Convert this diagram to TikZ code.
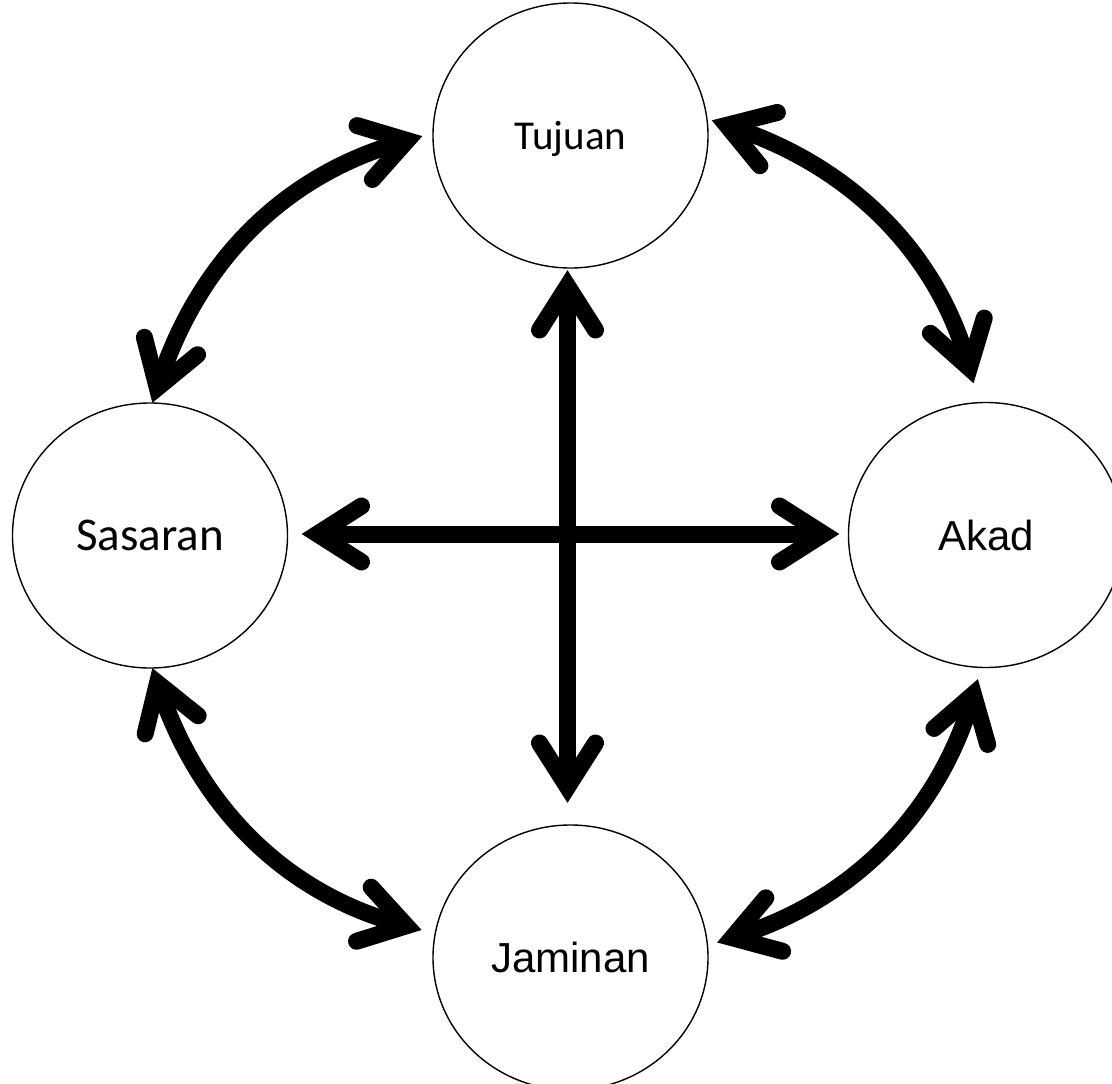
\documentclass[tikz,border=0pt]{standalone}
\usepackage{fontspec}
\usetikzlibrary{arrows.meta,shapes.geometric}
\newfontfamily\calfont{Carlito}
\newfontfamily\arialfont{Liberation Sans}

% open chevron head: sharp mitred point, rounded barb ends
\pgfdeclarearrow{
  name = Chevron,
  setup code = {
    \pgfarrowssettipend{0pt}
    \pgfarrowssetbackend{-68pt}
    \pgfarrowssetlineend{-22pt}
    \pgfarrowshullpoint{0pt}{0pt}
    \pgfarrowshullpoint{-68pt}{37pt}
    \pgfarrowshullpoint{-68pt}{-37pt}
  },
  drawing code = {
    \pgfsetdash{}{0pt}
    \pgfsetroundcap
    \pgfsetmiterjoin
    \pgfpathmoveto{\pgfqpoint{-60pt}{28pt}}
    \pgfpathlineto{\pgfqpoint{-16pt}{0pt}}
    \pgfpathlineto{\pgfqpoint{-60pt}{-28pt}}
    \pgfusepathqstroke
  }
}

\begin{document}
\begin{tikzpicture}[x=1pt,y=-1pt,
  bubble/.style={ellipse, draw=black, line width=1.4pt, minimum width=275pt,
    minimum height=265pt, inner sep=0pt, outer sep=0pt, text depth=0pt},
  link/.style={line width=17pt, Chevron-Chevron},
]
\useasboundingbox (0,0) rectangle (1112,1084);

% the four ideas
\node[bubble, font=\calfont\fontsize{41}{49}\selectfont]   (tuj) at (570.5,135.5) {Tujuan};
\node[bubble, font=\calfont\fontsize{47}{56}\selectfont]   (sas) at (150,535.5)   {Sasaran};
\node[bubble, font=\arialfont\fontsize{42}{50}\selectfont] (akd) at (986,535)     {Akad};
\node[bubble, font=\arialfont\fontsize{42}{50}\selectfont] (jam) at (570.5,957.5) {Jaminan};

% the cross through the middle
\draw[link, shorten <=2pt, shorten >=22pt] ([xshift=-3pt]tuj.south) -- ([xshift=-3pt]jam.north);
\draw[link, shorten <=14pt, shorten >=9pt] ([yshift=1.5pt]sas.east) -- ([yshift=1.5pt]sas.east -| akd.west);

% the ring round the outside
\draw[link, shorten >=11pt] (sas.89) to[bend left=28] (tuj.179);
\draw[link, shorten <=5pt, shorten >=20pt] (tuj.7) to[bend left=28] (akd.93);
\draw[link, shorten >=14pt] (sas.271) to[bend right=28] (jam.170);
\draw[link, shorten <=12pt, shorten >=10pt] (akd.268) to[bend left=28] (jam.5);
\end{tikzpicture}
\end{document}
